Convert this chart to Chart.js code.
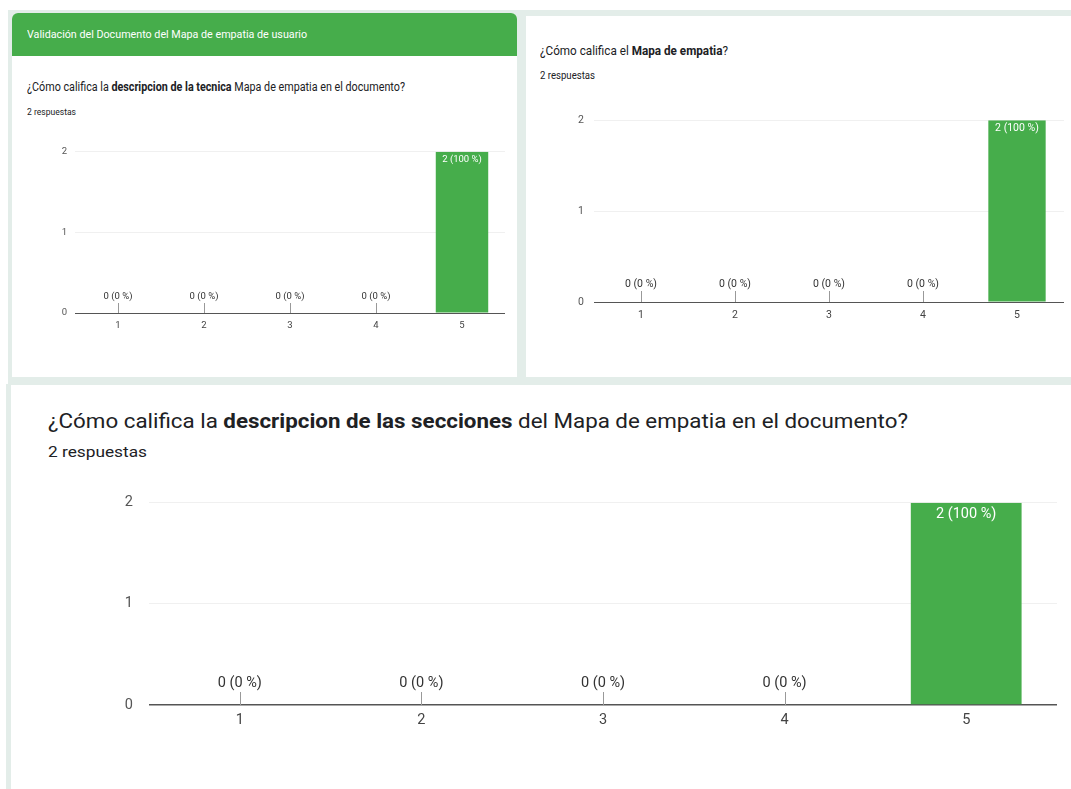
<!DOCTYPE html>
<html lang="es">
<head>
<meta charset="utf-8">
<title>Validación del Mapa de empatia</title>
<script src="https://cdn.jsdelivr.net/npm/chart.js@4.4.1/dist/chart.umd.min.js"></script>
<style>
  html, body { margin: 0; padding: 0; background: #fff; }
  body { width: 1071px; height: 789px; position: relative; overflow: hidden; font-family: Roboto, sans-serif; color: #202124; }
  .abs { position: absolute; }
  .marco { left: 8px; top: 10px; width: 1063px; height: 375px; background: #e3ede9; }
  .franja { left: 6px; top: 384px; width: 5px; height: 405px; background: #e3ede9; }
  .tarjeta { background: #fff; }
  .cabecera { left: 0; top: 0; right: 0; height: 43px; background: #46ad4b; border-radius: 6px 6px 0 0; }
  .pregunta { white-space: nowrap; transform-origin: 0 0; }
  .pregunta b { font-weight: bold; }
  .chart-box { position: absolute; }
</style>
</head>
<body>
<div class="abs marco"></div>
<div class="abs franja"></div>

<div class="abs tarjeta" style="left:12px; top:13px; width:505px; height:364px; border-radius:6px 6px 0 0;">
  <div class="abs cabecera"></div>
  <div class="abs pregunta" data-w="280" style="left:15px; top:15px; font-size:11px; color:#fff;">Validación del Documento del Mapa de empatia de usuario</div>
  <div class="abs pregunta" data-w="378" style="left:15px; top:66px; font-size:12.5px;">¿Cómo califica la <b>descripcion de la tecnica</b> Mapa de empatia en el documento?</div>
  <div class="abs pregunta" data-w="49" style="left:15px; top:93px; font-size:9.5px;">2 respuestas</div>
</div>

<div class="abs tarjeta" style="left:526px; top:16px; width:545px; height:361px;">
  <div class="abs pregunta" data-w="188" style="left:14px; top:26px; font-size:13.5px;">¿Cómo califica el <b>Mapa de empatia</b>?</div>
  <div class="abs pregunta" data-w="55" style="left:14px; top:54px; font-size:10px;">2 respuestas</div>
</div>

<div class="abs tarjeta" style="left:11px; top:385px; width:1060px; height:404px;">
  <div class="abs pregunta" data-w="860" style="left:37px; top:24px; font-size:20px;">¿Cómo califica la <b>descripcion de las secciones</b> del Mapa de empatia en el documento?</div>
  <div class="abs pregunta" data-w="99" style="left:37px; top:58px; font-size:15px;">2 respuestas</div>
</div>

<div class="chart-box" style="left:50px; top:138px; width:465px; height:209px;"><canvas id="chartTecnica"></canvas></div>
<div class="chart-box" style="left:569px; top:104px; width:501px; height:231px;"><canvas id="chartMapa"></canvas></div>
<div class="chart-box" style="left:119px; top:478px; width:950px; height:263px;"><canvas id="chartSecciones"></canvas></div>

<script>
const categories = ["1", "2", "3", "4", "5"];
const respuestasTecnica = [0, 0, 0, 0, 2];
const respuestasMapa = [0, 0, 0, 0, 2];
const respuestasSecciones = [0, 0, 0, 0, 2];
const totalRespuestas = 2;
const yTicks = [0, 1, 2];

const BAR_COLOR = "#46ad4b";

// ajustar ancho de los textos (captura original comprimida)
document.querySelectorAll(".pregunta[data-w]").forEach(el => {
    const w = el.getBoundingClientRect().width;
    el.style.transform = "scaleX(" + (Number(el.dataset.w) / w) + ")";
});

// etiquetas "n (x %)" sobre / dentro de cada barra
const etiquetasBarras = {
    id: "etiquetasBarras",
    afterDatasetsDraw(chart, args, opts) {
        const ctx = chart.ctx;
        const meta = chart.getDatasetMeta(0);
        const data = chart.data.datasets[0].data;
        const base = chart.scales.y.getPixelForValue(0);
        ctx.save();
        ctx.font = opts.size + "px " + opts.family;
        ctx.textAlign = "center";
        meta.data.forEach((bar, i) => {
            const v = data[i];
            const txt = v + " (" + Math.round(v / totalRespuestas * 100) + " %)";
            if (v > 0) {
                ctx.fillStyle = "#ffffff";
                ctx.textBaseline = "top";
                ctx.fillText(txt, bar.x, bar.y + opts.inside);
            } else {
                ctx.fillStyle = "#333333";
                ctx.textBaseline = "bottom";
                ctx.fillText(txt, bar.x, base - opts.gap);
                ctx.strokeStyle = "#999999";
                ctx.lineWidth = 1;
                ctx.beginPath();
                ctx.moveTo(Math.round(bar.x) + 0.5, base - opts.line);
                ctx.lineTo(Math.round(bar.x) + 0.5, base);
                ctx.stroke();
            }
        });
        ctx.restore();
    }
};

function crearGrafico(id, valores, cfg) {
    const canvas = document.getElementById(id);
    return new Chart(canvas, {
        type: "bar",
        data: {
            labels: categories,
            datasets: [{
                data: valores,
                backgroundColor: BAR_COLOR,
                borderWidth: 0,
                categoryPercentage: 1,
                barPercentage: 0.61
            }]
        },
        options: {
            responsive: true,
            maintainAspectRatio: false,
            animation: false,
            layout: { padding: { top: 10, right: cfg.padRight, left: 0, bottom: 0 } },
            plugins: {
                legend: { display: false },
                tooltip: { enabled: false },
                etiquetasBarras: cfg.etiquetas
            },
            scales: {
                x: {
                    grid: { display: false, drawTicks: false },
                    border: { display: false },
                    ticks: { color: "#444", padding: cfg.xPad, font: { size: cfg.tickSize, family: "Roboto" } },
                    afterFit: (s) => { s.height = cfg.xHeight; }
                },
                y: {
                    min: 0,
                    max: 2,
                    afterBuildTicks: (s) => { s.ticks = yTicks.map(v => ({ value: v })); },
                    grid: {
                        drawTicks: false,
                        color: (c) => c.tick && c.tick.value === 0 ? "#555555" : "#f0f0f0",
                        lineWidth: (c) => c.tick && c.tick.value === 0 ? cfg.axisWidth : 1
                    },
                    border: { display: false },
                    ticks: { color: "#555", padding: cfg.yPad, font: { size: cfg.tickSize, family: "Roboto" } },
                    afterFit: (s) => { s.width = cfg.yWidth; }
                }
            }
        },
        plugins: [etiquetasBarras]
    });
}

crearGrafico("chartTecnica", respuestasTecnica, {
    padRight: 10, xHeight: 34, yWidth: 25, xPad: 7, yPad: 8, tickSize: 9.5, axisWidth: 1,
    etiquetas: { size: 9.5, family: "Roboto", inside: 3, gap: 12, line: 10 }
});

crearGrafico("chartMapa", respuestasMapa, {
    padRight: 6, xHeight: 33, yWidth: 25, xPad: 7, yPad: 10, tickSize: 10.5, axisWidth: 1,
    etiquetas: { size: 10.5, family: "Roboto", inside: 3, gap: 12, line: 11 }
});

crearGrafico("chartSecciones", respuestasSecciones, {
    padRight: 12, xHeight: 36, yWidth: 30, xPad: 7, yPad: 16, tickSize: 14.5, axisWidth: 1.5,
    etiquetas: { size: 14.5, family: "Roboto", inside: 4, gap: 14, line: 13 }
});
</script>
</body>
</html>
